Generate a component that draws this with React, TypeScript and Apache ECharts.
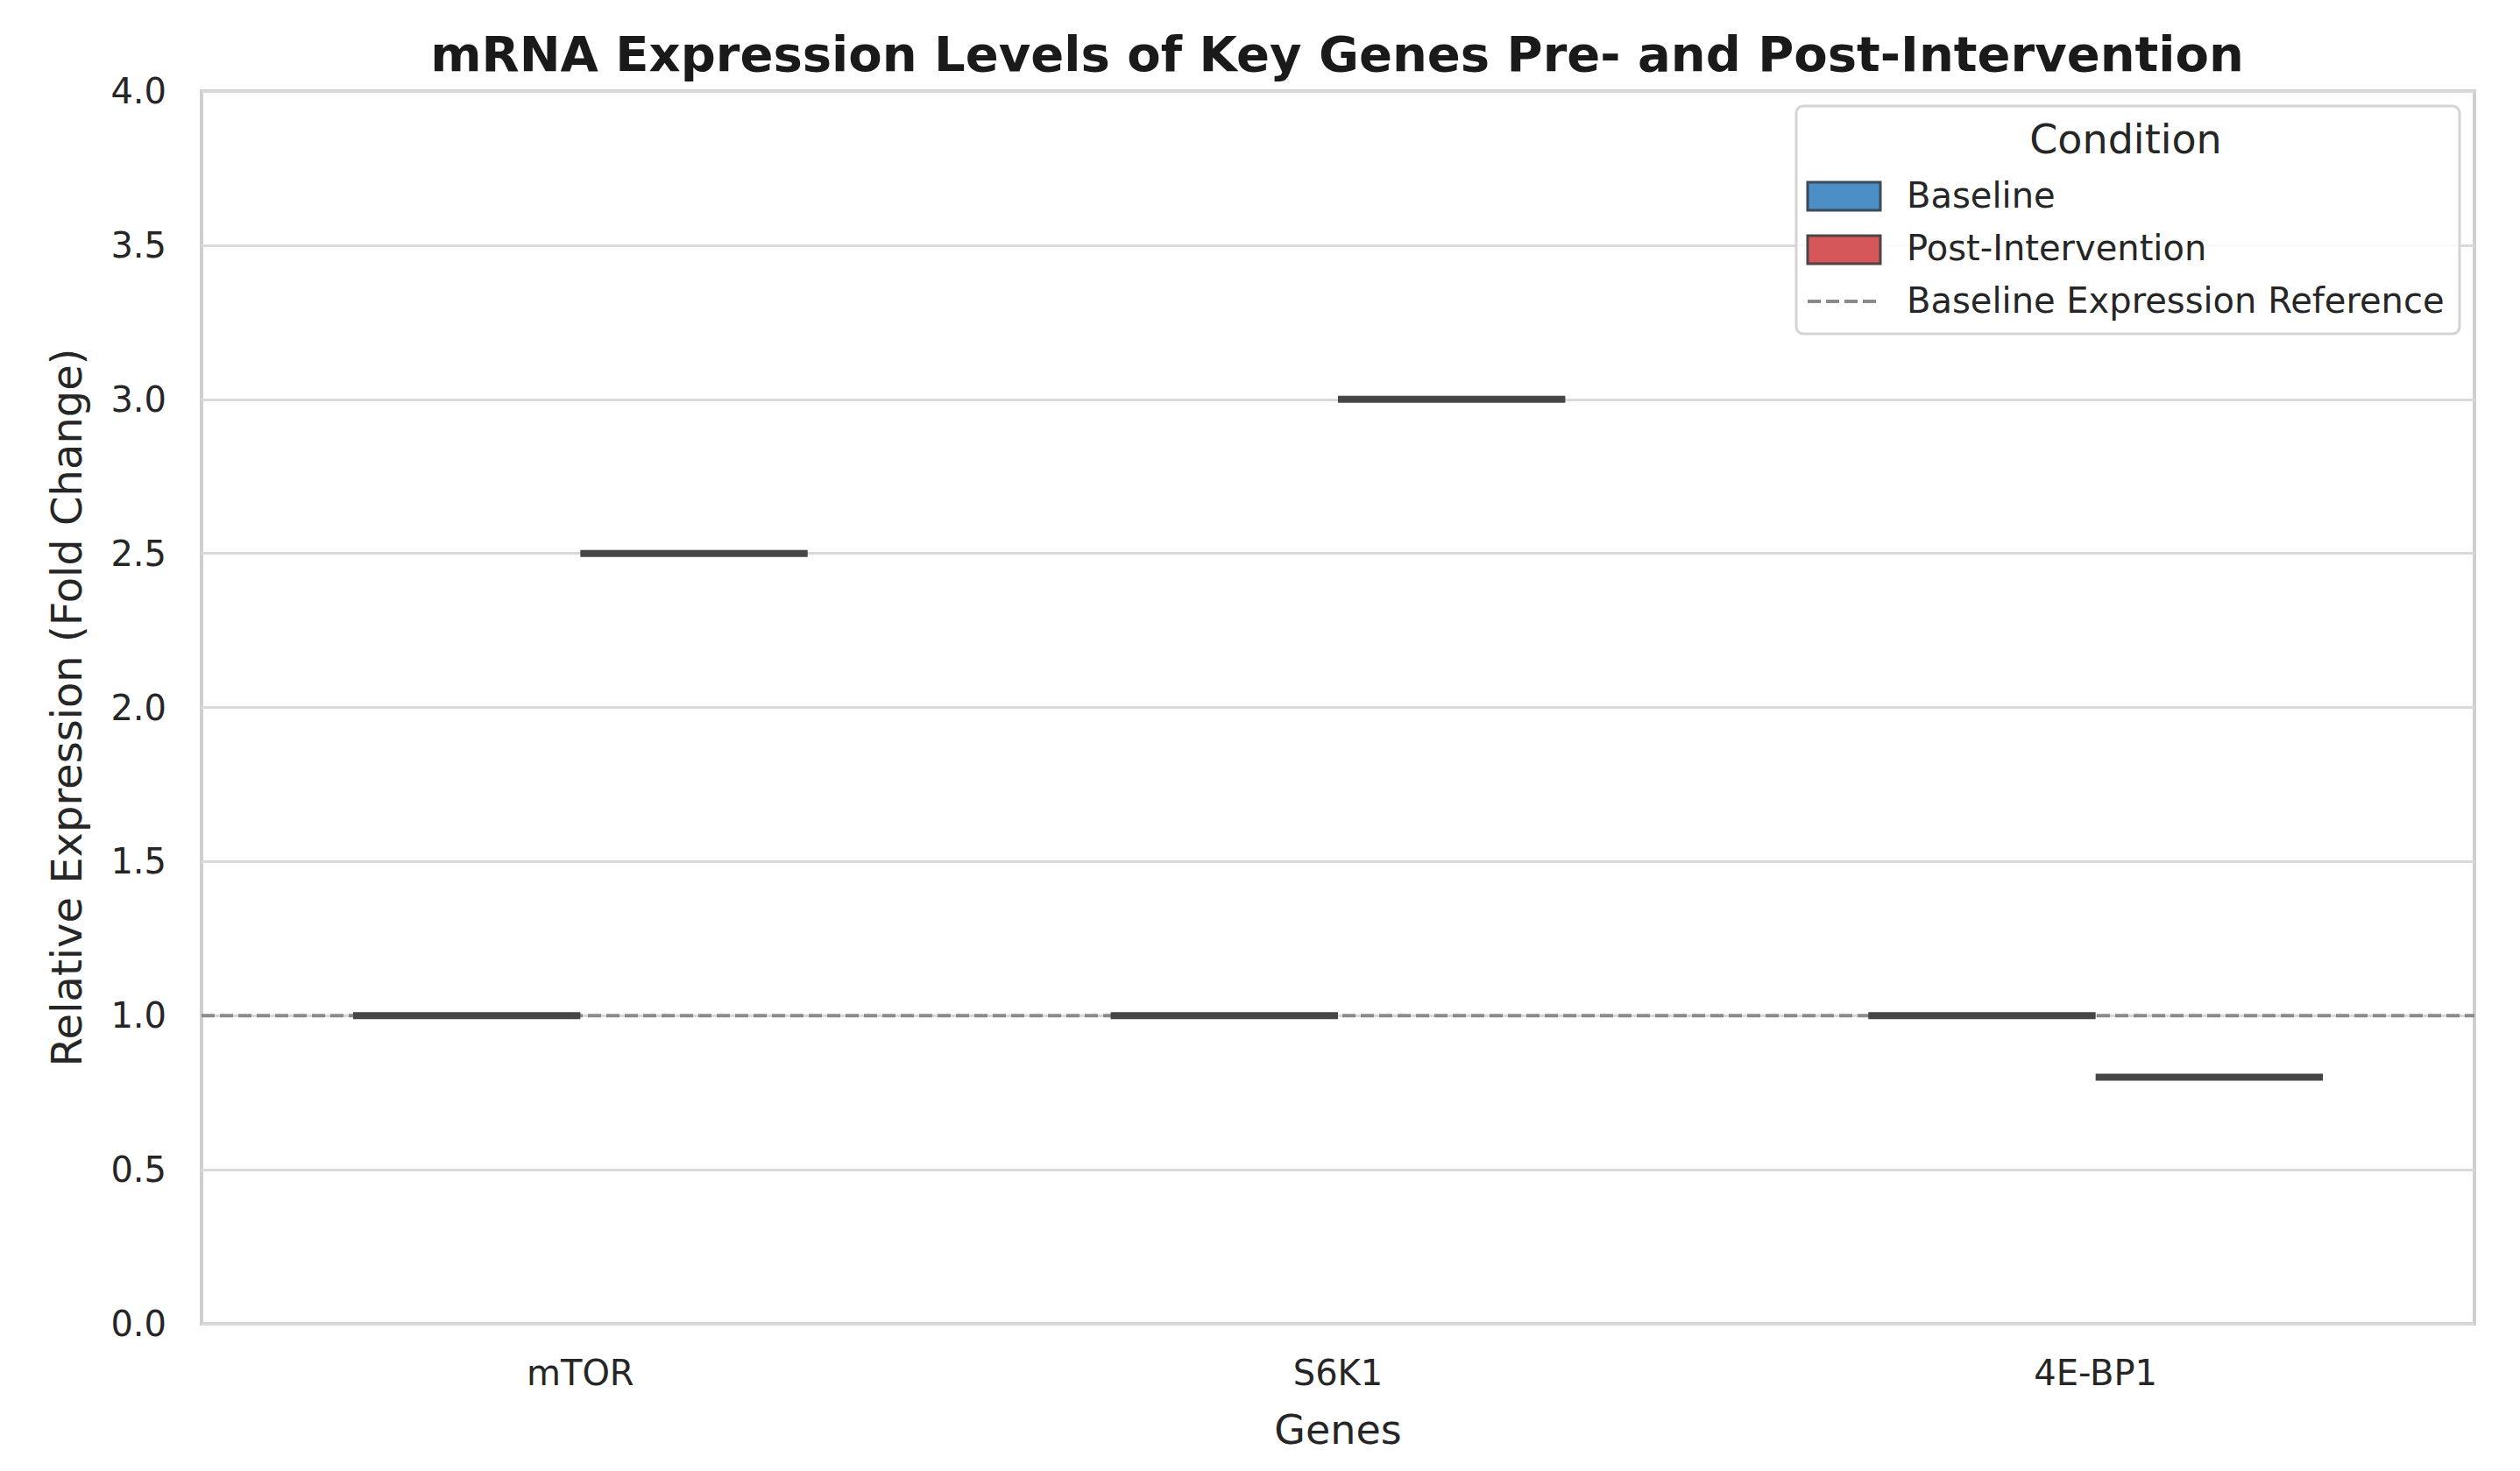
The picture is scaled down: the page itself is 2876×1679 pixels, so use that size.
import React, { useEffect, useRef } from "react";
import * as echarts from "echarts";

const genes = ["mTOR", "S6K1", "4E-BP1"];
const baselineValues = [1.0, 1.0, 1.0];
const postValues = [2.5, 3.0, 0.8];
const referenceLevel = 1.0;
const conditions = ["Baseline", "Post-Intervention"];
const conditionColors = ["#4b8fc6", "#d5575a"];
const referenceLabel = "Baseline Expression Reference";

const FONT = "DejaVu Sans";
const TEXT = "#262626";

function boxRenderer(hue: number) {
  return (params: any, api: any) => {
    const c = api.coord([api.value(0), api.value(1)]);
    const band = api.size([1, 0])[0];
    const w = band * 0.3;
    const x0 = c[0] + (hue === 0 ? -w : 0);
    return {
      type: "line",
      shape: { x1: x0, y1: c[1], x2: x0 + w, y2: c[1] },
      style: { stroke: "#464646", lineWidth: 8, lineCap: "butt" },
    };
  };
}

export default function App() {
  const ref = useRef<HTMLDivElement>(null);
  useEffect(() => {
    if (!ref.current) return;
    const chart = echarts.init(ref.current, undefined, { renderer: "svg" });
    const legX = 2050;
    const legY = 121;
    const Z = 100;
    const option: any = {
      animation: false,
      backgroundColor: "#ffffff",
      title: {
        text: "mRNA Expression Levels of Key Genes Pre- and Post-Intervention",
        left: 1521,
        top: 28,
        textAlign: "center",
        textStyle: { fontFamily: FONT, fontSize: 56, fontWeight: "bold", color: "#1a1a1a", lineHeight: 56 },
      },
      grid: {
        left: 230,
        top: 104,
        width: 2594,
        height: 1407,
        show: true,
        borderColor: "#cfcfcf",
        borderWidth: 4,
        backgroundColor: "transparent",
      },
      xAxis: {
        type: "category",
        data: genes,
        axisLine: { show: false },
        axisTick: { show: false },
        axisLabel: { fontFamily: FONT, fontSize: 40, color: TEXT, margin: 36 },
        splitLine: { show: false },
        name: "Genes",
        nameLocation: "middle",
        nameGap: 98,
        nameTextStyle: { fontFamily: FONT, fontSize: 46, color: TEXT },
      },
      yAxis: {
        type: "value",
        min: 0,
        max: 4,
        interval: 0.5,
        axisLine: { show: false },
        axisTick: { show: false },
        axisLabel: {
          fontFamily: FONT,
          fontSize: 40,
          color: TEXT,
          margin: 40,
          formatter: (v: number) => v.toFixed(1),
        },
        splitLine: { show: true, lineStyle: { color: "#d9d9d9", width: 3 } },
        name: "Relative Expression (Fold Change)",
        nameLocation: "middle",
        nameGap: 130,
        nameTextStyle: { fontFamily: FONT, fontSize: 48, color: TEXT },
      },
      series: [
        {
          type: "custom",
          name: referenceLabel,
          z: 2,
          data: [[0, referenceLevel]],
          encode: { x: 0, y: 1 },
          renderItem: (params: any, api: any) => {
            const cs = params.coordSys;
            const y = api.coord([0, api.value(1)])[1];
            return {
              type: "line",
              shape: { x1: cs.x, y1: y, x2: cs.x + cs.width, y2: y },
              style: { stroke: "#8a8a8a", lineWidth: 4, lineDash: [15, 6] },
            };
          },
        },
        {
          type: "custom",
          name: conditions[0],
          z: 3,
          data: baselineValues.map((v, i) => [i, v]),
          encode: { x: 0, y: 1 },
          renderItem: boxRenderer(0),
        },
        {
          type: "custom",
          name: conditions[1],
          z: 3,
          data: postValues.map((v, i) => [i, v]),
          encode: { x: 0, y: 1 },
          renderItem: boxRenderer(1),
        },
      ],
      graphic: [
        {
          type: "rect",
          z: Z,
          shape: { x: legX, y: legY, width: 757, height: 260, r: 8 },
          style: { fill: "rgba(255,255,255,0.85)", stroke: "#d4d4d4", lineWidth: 3 },
        },
        {
          type: "text",
          z: Z + 1,
          x: legX + 376,
          y: legY + 38,
          style: {
            text: "Condition",
            fontFamily: FONT,
            fontSize: 46,
            fill: TEXT,
            align: "center",
            verticalAlign: "middle",
          },
        },
        {
          type: "rect",
          z: Z + 1,
          shape: { x: legX + 13, y: legY + 87, width: 83, height: 32 },
          style: { fill: conditionColors[0], stroke: "#3f4a56", lineWidth: 3 },
        },
        {
          type: "text",
          z: Z + 1,
          x: legX + 126,
          y: legY + 102,
          style: { text: conditions[0], fontFamily: FONT, fontSize: 40, fill: TEXT, verticalAlign: "middle" },
        },
        {
          type: "rect",
          z: Z + 1,
          shape: { x: legX + 13, y: legY + 148, width: 83, height: 32 },
          style: { fill: conditionColors[1], stroke: "#4f4444", lineWidth: 3 },
        },
        {
          type: "text",
          z: Z + 1,
          x: legX + 126,
          y: legY + 162,
          style: { text: conditions[1], fontFamily: FONT, fontSize: 40, fill: TEXT, verticalAlign: "middle" },
        },
        {
          type: "line",
          z: Z + 1,
          shape: { x1: legX + 13, y1: legY + 223, x2: legX + 96, y2: legY + 223 },
          style: { stroke: "#8a8a8a", lineWidth: 4, lineDash: [15, 6] },
        },
        {
          type: "text",
          z: Z + 1,
          x: legX + 126,
          y: legY + 222,
          style: { text: referenceLabel, fontFamily: FONT, fontSize: 40, fill: TEXT, verticalAlign: "middle" },
        },
      ],
    };
    chart.setOption(option);
    return () => chart.dispose();
  }, []);
  return (
    <div
      ref={ref}
      style={{ position: "absolute", left: 0, top: 0, width: "2876px", height: "1679px" }}
    />
  );
}
